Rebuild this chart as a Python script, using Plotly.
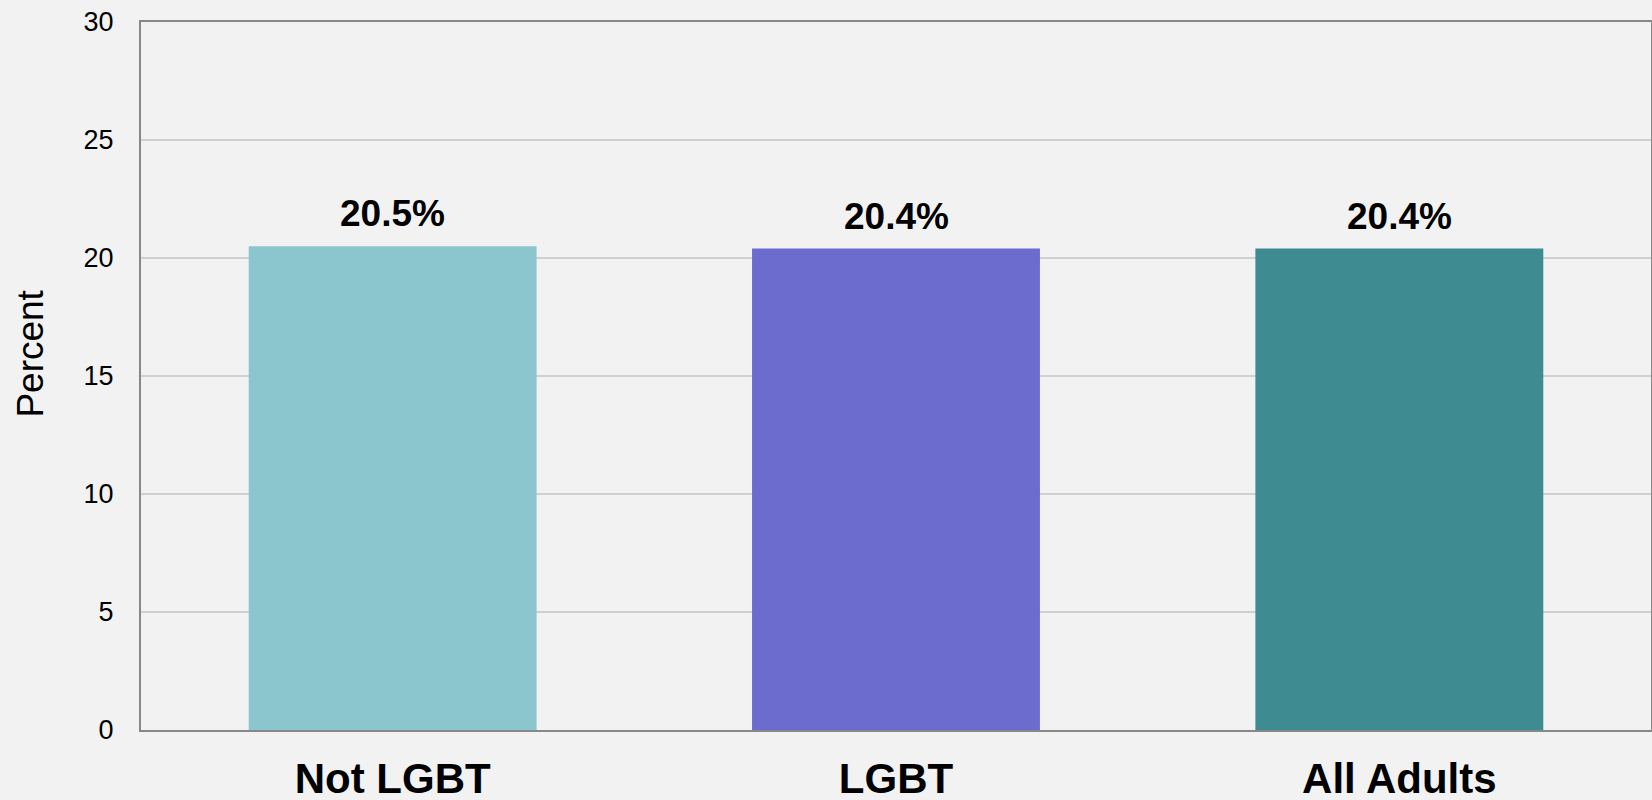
import plotly.graph_objects as go

categories = ["Not LGBT", "LGBT", "All Adults"]
values = [20.5, 20.4, 20.4]
labels = ["20.5%", "20.4%", "20.4%"]
colors = ["#8BC6CE", "#6C6BCE", "#3E8C92"]
y_ticks = [0, 5, 10, 15, 20, 25, 30]

FONT = "Arial, Liberation Sans, sans-serif"

fig = go.Figure()
fig.add_trace(go.Bar(
    x=categories, y=values, marker=dict(color=colors, line=dict(width=0)),
    hoverinfo="skip",
))
for c, v, t in zip(categories, values, labels):
    fig.add_annotation(
        x=c, y=v, text=t, showarrow=False, yanchor="bottom", yshift=10,
        font=dict(family=FONT, size=37, color="#000000", weight="bold"),
    )

fig.update_layout(
    width=1652, height=800,
    margin=dict(l=141, r=1, t=22, b=70),
    paper_bgcolor="#F2F2F2", plot_bgcolor="#F2F2F2",
    bargap=0.428,
    showlegend=False,
    font=dict(family=FONT, color="#000000"),
)
fig.update_xaxes(
    automargin=False,
    showline=True, linecolor="#888888", linewidth=2, mirror=True,
    showgrid=False, ticks="",
    tickfont=dict(family=FONT, size=42, color="#000000", weight="bold"),
    ticklabelstandoff=11,
)
fig.update_yaxes(
    automargin=False,
    range=[0, 30], tickvals=y_ticks,
    showline=True, linecolor="#888888", linewidth=2, mirror=True,
    showgrid=True, gridcolor="#D0D0D0", gridwidth=1.5,
    zeroline=False, ticks="",
    tickfont=dict(family=FONT, size=27, color="#000000"),
    ticklabelstandoff=20,
)
fig.add_annotation(
    text="Percent", textangle=-90, showarrow=False,
    xref="paper", yref="paper", x=-0.0738, y=0.531,
    xanchor="center", yanchor="middle",
    font=dict(family=FONT, size=37, color="#000000"),
)

fig.write_html(
    "out.html",
    config={"displayModeBar": False},
    post_script="document.body.style.margin='0';document.body.style.overflow='hidden';",
)
